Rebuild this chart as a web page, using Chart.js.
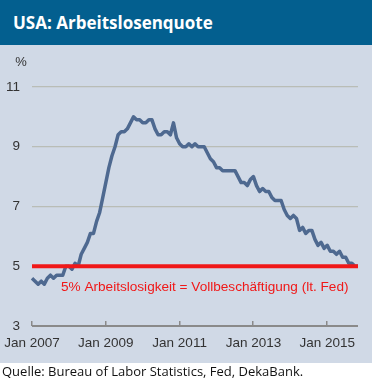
<!DOCTYPE html>
<html lang="de">
<head>
<meta charset="utf-8">
<title>USA: Arbeitslosenquote</title>
<script src="https://cdn.jsdelivr.net/npm/chart.js@4.4.1/dist/chart.umd.min.js"></script>
<style>
    html, body { margin: 0; padding: 0; background: #ffffff; }
    body { width: 375px; height: 389px; position: relative; overflow: hidden; }
    #kopf {
        position: absolute; left: 0; top: 0; width: 372px; height: 45px;
        background: #035f8f; color: #ffffff;
        font: 700 17px "Open Sans", sans-serif;
        line-height: 45px; padding-left: 13px; box-sizing: border-box;
    }
    #panel {
        position: absolute; left: 0; top: 45px; width: 372px; height: 318px;
        background: #d0d9e6;
    }
    #quelle {
        position: absolute; left: 2px; top: 362px;
        font: 13px "Open Sans", sans-serif; color: #111;
        line-height: 18px;
    }
</style>
</head>
<body>
<div id="kopf">USA: Arbeitslosenquote</div>
<div id="panel"><canvas id="grafik"></canvas></div>
<div id="quelle">Quelle: Bureau of Labor Statistics, Fed, DekaBank.</div>

<script>
// --- Daten (Arbeitslosenquote in %, monatlich) ---
const quote2007 = [4.6, 4.5, 4.4, 4.5, 4.4, 4.6, 4.7, 4.6, 4.7, 4.7, 4.7, 5.0];
const quote2008 = [5.0, 4.9, 5.1, 5.0, 5.4, 5.6, 5.8, 6.1, 6.1, 6.5, 6.8, 7.3];
const quote2009 = [7.8, 8.3, 8.7, 9.0, 9.4, 9.5, 9.5, 9.6, 9.8, 10.0, 9.9, 9.9];
const quote2010 = [9.8, 9.8, 9.9, 9.9, 9.6, 9.4, 9.4, 9.5, 9.5, 9.4, 9.8, 9.3];
const quote2011 = [9.1, 9.0, 9.0, 9.1, 9.0, 9.1, 9.0, 9.0, 9.0, 8.8, 8.6, 8.5];
const quote2012 = [8.3, 8.3, 8.2, 8.2, 8.2, 8.2, 8.2, 8.0, 7.8, 7.8, 7.7, 7.9];
const quote2013 = [8.0, 7.7, 7.5, 7.6, 7.5, 7.5, 7.3, 7.2, 7.2, 7.2, 6.9, 6.7];
const quote2014 = [6.6, 6.7, 6.6, 6.2, 6.3, 6.1, 6.2, 6.2, 5.9, 5.7, 5.8, 5.6];
const quote2015 = [5.7, 5.5, 5.5, 5.4, 5.5, 5.3, 5.3, 5.1, 5.1, 5.0, 5.0];

const jahre = [2007, 2008, 2009, 2010, 2011, 2012, 2013, 2014, 2015];
const monatsNamen = ['Jan', 'Feb', 'Mrz', 'Apr', 'Mai', 'Jun', 'Jul', 'Aug', 'Sep', 'Okt', 'Nov', 'Dez'];
const tickLabels = ['Jan 2007', 'Jan 2009', 'Jan 2011', 'Jan 2013', 'Jan 2015'];
const yTicks = [3, 5, 7, 9, 11];
const zielQuote = 5; // Vollbeschäftigung lt. Fed
const zielText = '5% Arbeitslosigkeit = Vollbeschäftigung (lt. Fed)';

const quoten = [].concat(quote2007, quote2008, quote2009, quote2010, quote2011,
    quote2012, quote2013, quote2014, quote2015);

// Kategorien: ein Label pro Monat
const monate = [];
jahre.forEach(jahr => monatsNamen.forEach(m => monate.push(m + ' ' + jahr)));
monate.length = quoten.length;

// --- Farben ---
const farbeLinie = '#4e6990';
const farbeRot = '#f01818';
const farbeText = '#333333';
const farbeAchse = '#8a8a8a';
const schrift = '"Liberation Sans", Arial, sans-serif';

// Zeichnet die x-Achsenlinie mit kleinen Strichen, das "%" und den roten Hinweistext
const extrasPlugin = {
    id: 'extras',
    beforeDatasetsDraw(chart) {
        const { ctx, scales: { x, y } } = chart;
        const yAchse = Math.round(y.getPixelForValue(yTicks[0]));
        ctx.save();
        ctx.strokeStyle = farbeAchse;
        ctx.lineWidth = 2;
        ctx.beginPath();
        ctx.moveTo(x.left, yAchse);
        ctx.lineTo(x.right, yAchse);
        ctx.stroke();

        ctx.lineWidth = 1.5;
        x.ticks.forEach((t, i) => {
            const px = Math.round(x.getPixelForTick(i)) - 0.25;
            ctx.beginPath();
            ctx.moveTo(px, yAchse);
            ctx.lineTo(px, yAchse - 5);
            ctx.stroke();
        });
        ctx.restore();
    },
    afterDraw(chart) {
        const { ctx, scales: { y } } = chart;
        ctx.save();
        ctx.fillStyle = farbeText;
        ctx.font = '13px ' + schrift;
        ctx.textAlign = 'center';
        ctx.textBaseline = 'middle';
        ctx.fillText('%', 21, y.getPixelForValue(11) - 25);

        ctx.fillStyle = farbeRot;
        ctx.textAlign = 'left';
        ctx.font = '13.6px ' + schrift;
        ctx.fillText(zielText, 61, y.getPixelForValue(zielQuote) + 21);
        ctx.restore();
    }
};

const chart = new Chart(document.getElementById('grafik'), {
    type: 'line',
    data: {
        labels: monate,
        datasets: [{
            label: 'Ziel',
            data: [{ x: monate[0], y: zielQuote }, { x: monate[monate.length - 1], y: zielQuote }],
            borderColor: farbeRot,
            borderWidth: 4,
            pointRadius: 0,
            order: 0
        }, {
            label: 'Arbeitslosenquote',
            data: quoten,
            borderColor: farbeLinie,
            borderWidth: 3.5,
            pointRadius: 0,
            tension: 0,
            borderJoinStyle: 'round',
            order: 1
        }]
    },
    options: {
        responsive: true,
        maintainAspectRatio: false,
        animation: false,
        layout: { padding: { top: 42, right: 14, left: 0, bottom: 0 } },
        plugins: {
            legend: { display: false },
            tooltip: { enabled: false }
        },
        scales: {
            x: {
                type: 'category',
                offset: false,
                grid: { display: false, drawTicks: false },
                border: { display: false },
                afterBuildTicks: (s) => {
                    s.ticks = s.ticks.filter(t => tickLabels.includes(monate[t.value]));
                },
                afterFit: (s) => {
                    s.height = 37;
                    s.paddingLeft = 0;
                    s.paddingRight = 0;
                },
                ticks: {
                    autoSkip: false,
                    maxRotation: 0,
                    minRotation: 0,
                    padding: 9,
                    color: farbeText,
                    font: { family: schrift, size: 13.5 },
                    callback: (v) => monate[v]
                }
            },
            y: {
                min: 3,
                max: 11,
                afterBuildTicks: (s) => { s.ticks = yTicks.map(v => ({ value: v })); },
                afterFit: (s) => { s.width = 32; },
                border: { display: false },
                grid: {
                    drawTicks: false,
                    color: (c) => c.tick && c.tick.value === 3 ? 'rgba(0,0,0,0)' : '#b9bdb6',
                    lineWidth: 1.2
                },
                ticks: {
                    padding: 12,
                    color: farbeText,
                    font: { family: schrift, size: 13.5 }
                }
            }
        }
    },
    plugins: [extrasPlugin]
});
</script>
</body>
</html>
